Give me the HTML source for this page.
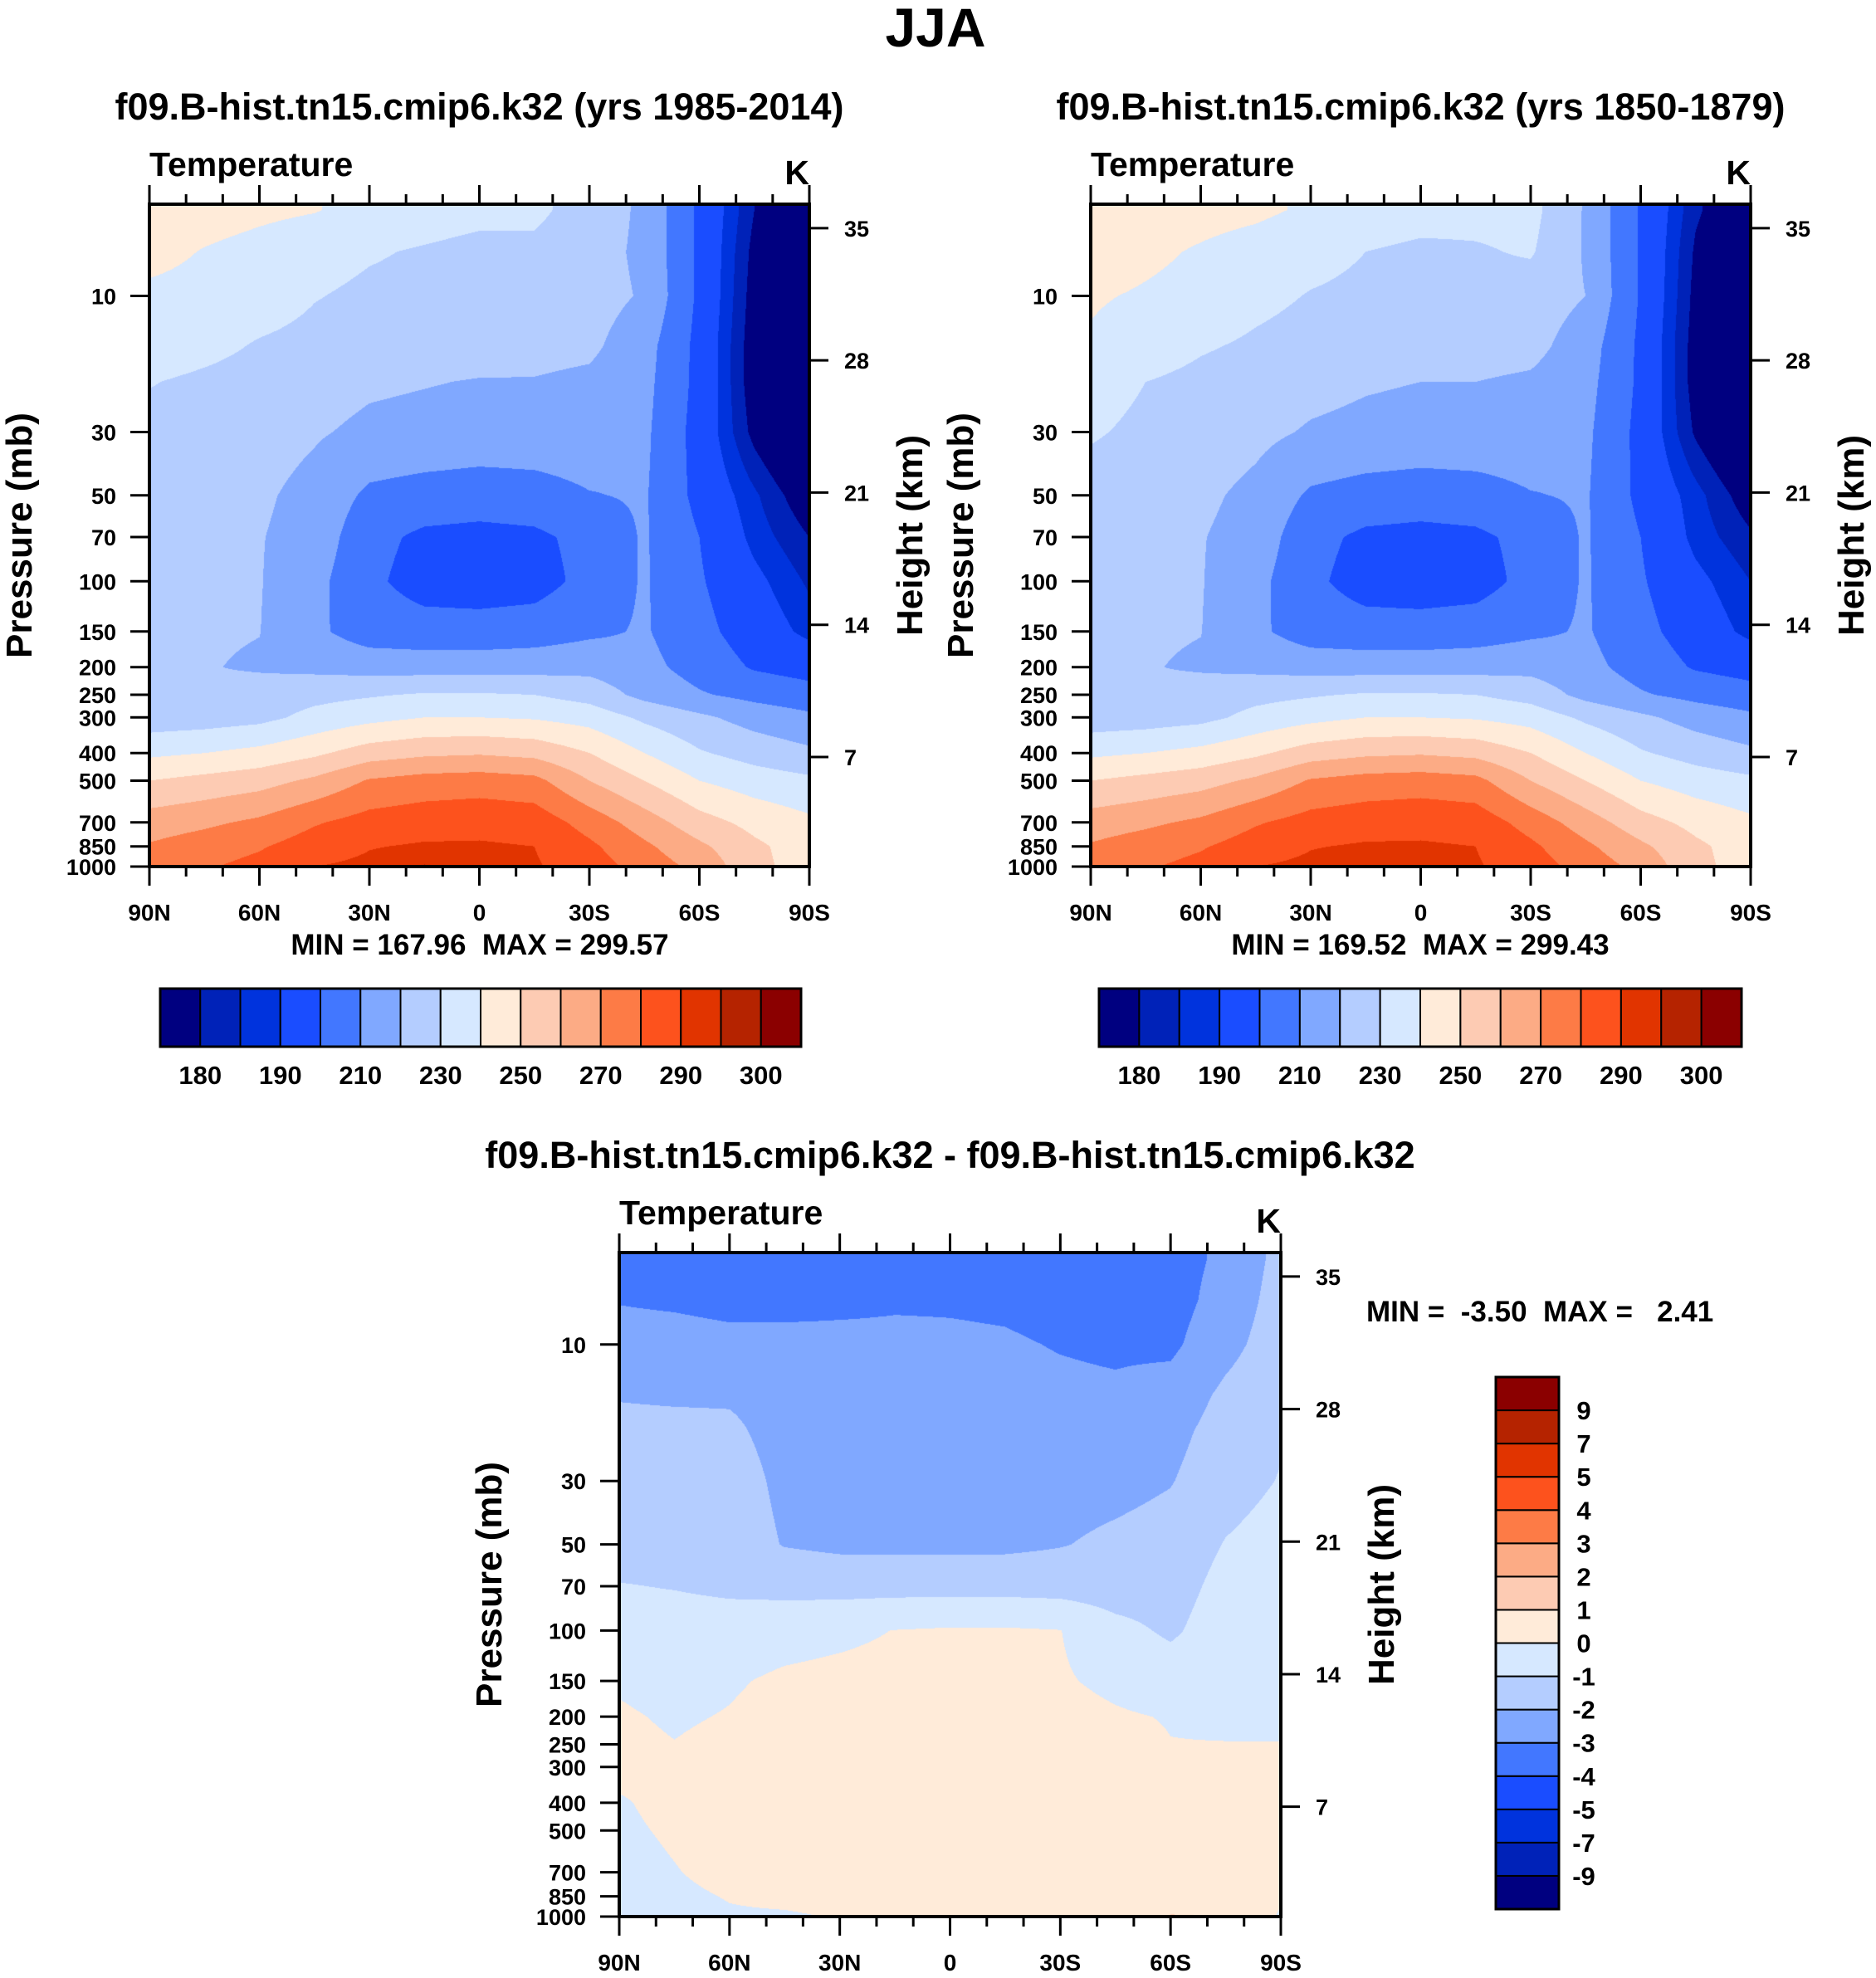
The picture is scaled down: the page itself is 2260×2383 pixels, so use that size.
<!DOCTYPE html>
<html><head><meta charset="utf-8">
<style>
html,body{margin:0;padding:0;background:#fff;}
#root{position:relative;width:2260px;height:2383px;overflow:hidden;background:#fff;}
canvas{position:absolute;}
svg{position:absolute;left:0;top:0;}
text{font-family:"Liberation Sans",Arial,sans-serif;font-weight:bold;fill:#000;}
</style></head>
<body>
<div id="root">
<canvas id="c1"></canvas>
<canvas id="c2"></canvas>
<canvas id="c3"></canvas>
<svg id="svg" width="2260" height="2383"></svg>
</div>
<script>
// ---------- data ----------
const lats = [90,75,60,45,30,15,0,-15,-30,-45,-60,-75,-90];
const plevs = [5,7,10,15,20,30,50,70,100,150,200,250,300,400,500,700,850,1000];
const pTicks = [10,30,50,70,100,150,200,250,300,400,500,700,850,1000];
const hTicks = [35,28,21,14,7];
const latTickVals = [90,60,30,0,-30,-60,-90];
const latTickLabels = ["90N","60N","30N","0","30S","60S","90S"];
const tLevels = [180,185,190,200,210,220,230,240,250,260,270,280,290,295,300];
const tLabels = ["180","190","210","230","250","270","290","300"];
const dLevels = [-9,-7,-5,-4,-3,-2,-1,0,1,2,3,4,5,7,9];
const dLabels = ["-9","-7","-5","-4","-3","-2","-1","0","1","2","3","4","5","7","9"];
const colors = ["#000080","#0022b8","#0033dd","#1a4dff","#4277ff","#80a8ff","#b4cdff","#d6e8ff","#ffebd9","#fdcbb3","#fcab85","#fd7b46","#fd521d","#e13400","#b52300","#8b0000"];

const T1 = [
[246,244,242,240.5,237,235,233,232,226,218,198,180,172],
[243,239.5,237,234,231,229,227,228,224,218,198,178,170],
[238,237,235,230.5,228,227,226,226,224,219,198,177,168],
[236,233,229,227,225,224,224,223,222,214,197,176,167],
[230.5,228,226,224,221.5,220.5,219.5,219.5,218,213,197,176,166],
[227,226,224,221,218,217,216,216,216,212,196,178,166],
[225,224,221.5,217,208,206,205,206,209.5,211,197,186,175],
[224,223,220.5,216,203,198,197,198,203,211,200,188,180],
[223,222,220.5,213,202,196,195,196,203,211,201,192,184],
[222,221,220.2,212,205,204,204,205,208,211,203,195,188],
[221,220.5,219,217.5,216,215.5,215.5,216,217,213,206,199,196],
[221,222,224,227,229,231,231,230,226,217,211,207,204],
[224,225,227,233,237,240,240,239,236,228,222,216,212],
[238,240,243,248,255,258,259,257,250,240,231,226,222],
[250,253,256,262,271,274,275,273,260,250,240,235,232],
[265,268,272,279,284,286,287,286,276,265,254,247,242],
[271,275,279,285,289.5,291,291,290,282,272,262,252,245],
[276,279,283,290,292,295.5,293,291,285,276,267,253,245]
];
const T2 = [
[247,245.5,243.5,242,238.5,236,234,233,233,219,199,181,173],
[245,242,239,236,233,230,228,229,231,219,199,179,171],
[241,239,237,232.5,229.5,228,227,227,225,220,199,178,169],
[239,235,231,228.5,226.5,225,224.5,224,223,215,198,177,168],
[234,230,227.5,225.5,223,221,220,220,218.5,213.5,198,177,167],
[231,228,225.5,222.5,219,217.5,216.5,216.5,216,212,197,179,167],
[226,224.5,222,217.5,208.5,206,205,206,209.5,211,197.5,187,176],
[224,223,220.5,216,203,198,197,198,203,211,200,188,181],
[223,222,220.5,213,202,196,195,196,203,211,201,192,185],
[222,221,220.2,212,205,204,204,205,208,211,203,195,188],
[221,220.5,219,217.5,216,215.5,215.5,216,217,213,206,199,196],
[221,222,224,227,229,231,231,230,226,217,211,207,204],
[224,225,227,233,237,240,240,239,236,228,222,216,212],
[238,240,243,248,255,258,259,257,250,240,231,226,222],
[250,253,256,262,271,274,275,273,260,250,240,235,232],
[265,268,272,279,284,286,287,286,276,265,254,247,242],
[271,275,279,285,289.5,291,291,290,282,272,262,252,245],
[276,279,283,290,292,295.3,293,291,285,276,267,253,245]
];
const D = [
[-3.3,-3.4,-3.4,-3.3,-3.3,-3.3,-3.4,-3.5,-3.5,-3.5,-3.4,-2.8,-1.7],
[-3.05,-3.15,-3.3,-3.3,-3.2,-3.1,-3.1,-3.15,-3.3,-3.4,-3.4,-2.6,-1.6],
[-2.6,-2.6,-2.7,-2.7,-2.75,-2.8,-2.85,-2.9,-3.05,-3.15,-3.2,-2.3,-1.5],
[-2.05,-2.1,-2.1,-2.3,-2.5,-2.6,-2.7,-2.75,-2.8,-2.85,-2.6,-1.8,-1.3],
[-1.8,-1.8,-1.85,-2.3,-2.5,-2.5,-2.55,-2.6,-2.6,-2.6,-2.3,-1.6,-1.1],
[-1.6,-1.6,-1.6,-2.2,-2.45,-2.5,-2.5,-2.5,-2.4,-2.3,-2.05,-1.4,-0.95],
[-1.5,-1.5,-1.5,-2.05,-2.2,-2.2,-2.2,-2.2,-2.05,-1.8,-1.6,-0.95,-0.6],
[-0.95,-1.05,-1.2,-1.3,-1.35,-1.35,-1.35,-1.35,-1.4,-1.5,-1.4,-0.7,-0.5],
[-0.5,-0.5,-0.5,-0.35,-0.2,0.02,0.1,0.1,0.02,-0.7,-1.15,-0.5,-0.4],
[-0.1,-0.3,-0.1,0.15,0.25,0.3,0.3,0.3,0.1,-0.2,-0.5,-0.4,-0.3],
[0.1,-0.1,0.05,0.3,0.3,0.3,0.3,0.3,0.3,0.1,-0.05,-0.15,-0.15],
[0.2,0.02,0.2,0.3,0.3,0.3,0.3,0.3,0.3,0.3,0.02,0.02,0.02],
[0.3,0.2,0.3,0.3,0.3,0.3,0.3,0.3,0.3,0.3,0.2,0.2,0.2],
[-0.1,0.3,0.4,0.4,0.4,0.4,0.4,0.4,0.4,0.4,0.4,0.3,0.3],
[-0.2,0.15,0.4,0.4,0.4,0.4,0.4,0.4,0.4,0.4,0.4,0.3,0.3],
[-0.4,-0.05,0.3,0.4,0.4,0.4,0.4,0.4,0.4,0.4,0.4,0.3,0.2],
[-0.5,-0.2,0.05,0.2,0.3,0.4,0.4,0.4,0.4,0.5,0.6,0.5,0.1],
[-0.6,-0.3,-0.1,-0.1,0.05,0.3,0.3,0.3,0.3,0.4,1.05,1.0,-0.1]
];

// ---------- helpers ----------
const NS = "http://www.w3.org/2000/svg";
const svg = document.getElementById('svg');
function mk(tag, attrs, parent){
  const e = document.createElementNS(NS, tag);
  for (const k in attrs) e.setAttribute(k, attrs[k]);
  (parent||svg).appendChild(e);
  return e;
}
function txt(s, x, y, size, anchor, parent){
  const t = mk('text', {x:x, y:y, 'font-size':size, 'text-anchor':anchor||'middle'}, parent);
  t.textContent = s;
  return t;
}
const PTOP = 4.77;
function hexToRgb(h){return [parseInt(h.substr(1,2),16),parseInt(h.substr(3,2),16),parseInt(h.substr(5,2),16)];}
const rgb = colors.map(hexToRgb);
function colorIndex(v, levels){
  let i = 0;
  while (i < levels.length && v >= levels[i]) i++;
  return i;
}

function drawPanel(id, canvasId, grid, levels, P, title, minmax, minmaxPos){
  const g = mk('g', {}, svg);
  
  
  const W = P.x1 - P.x0, H = P.y1 - P.y0;
  const lx = lat => P.x0 + (90 - lat) / 180 * W;
  const ly = p => P.y0 + (Math.log10(p) - Math.log10(PTOP)) / (3 - Math.log10(PTOP)) * H;
  const hy = h => P.y0 + (19 + (35 - h) * 15) / 526 * H;

  const cv = document.getElementById(canvasId);
  cv.width = W; cv.height = H;
  cv.style.left = P.x0 + 'px'; cv.style.top = P.y0 + 'px';
  const ctx = cv.getContext('2d');
  const img = ctx.createImageData(W, H);
  const lp = plevs.map(p => Math.log10(p));
  for (let y = 0; y < H; y++){
    let L = Math.log10(PTOP) + (y + 0.5) / H * (3 - Math.log10(PTOP));
    if (L < lp[0]) L = lp[0];
    let r = 0; while (r < lp.length - 2 && L > lp[r+1]) r++;
    const fy = Math.min(1, Math.max(0, (L - lp[r]) / (lp[r+1] - lp[r])));
    for (let x = 0; x < W; x++){
      const fxAll = (x + 0.5) / W * (lats.length - 1);
      let c = Math.min(lats.length - 2, Math.floor(fxAll));
      const fx = fxAll - c;
      const v = (grid[r][c]*(1-fx) + grid[r][c+1]*fx)*(1-fy) + (grid[r+1][c]*(1-fx) + grid[r+1][c+1]*fx)*fy;
      const col = rgb[colorIndex(v, levels)];
      const o = (y*W + x)*4;
      img.data[o]=col[0]; img.data[o+1]=col[1]; img.data[o+2]=col[2]; img.data[o+3]=255;
    }
  }
  ctx.putImageData(img, 0, 0);

  const fr = mk('rect', {x:P.x0, y:P.y0, width:W, height:H, fill:'none', stroke:'#000', 'stroke-width':4}, g);
  
  
  for (let lat = 90; lat >= -90; lat -= 10){
    const major = lat % 30 === 0;
    const len = major ? 23 : 12;
    const x = lx(lat);
    mk('line', {x1:x, y1:P.y1, x2:x, y2:P.y1 + len, stroke:'#000', 'stroke-width':3}, g);
    mk('line', {x1:x, y1:P.y0, x2:x, y2:P.y0 - len, stroke:'#000', 'stroke-width':3}, g);
  }
  latTickVals.forEach((lat, i) => {
    const t = txt(latTickLabels[i], lx(lat), P.y1 + 65, 28, 'middle', g);
    
    
  });
  pTicks.forEach(p => {
    const y = ly(p);
    mk('line', {x1:P.x0 - 23, y1:y, x2:P.x0, y2:y, stroke:'#000', 'stroke-width':3}, g);
    const t = txt(String(p), P.x0 - 40, y + 10, 27, 'end', g);
    
    
  });
  hTicks.forEach(h => {
    const y = hy(h);
    mk('line', {x1:P.x1, y1:y, x2:P.x1 + 23, y2:y, stroke:'#000', 'stroke-width':3}, g);
    const t = txt(String(h), P.x1 + 42, y + 10, 27, 'start', g);
    
    
  });
  const cy = (P.y0 + P.y1) / 2;
  const yt = txt('Pressure (mb)', 0, 0, 44, 'middle', g);
  yt.setAttribute('transform', `translate(${P.x0 - 142},${cy}) rotate(-90)`);
  
  
  const ht = txt('Height (km)', 0, 0, 44, 'middle', g);
  ht.setAttribute('transform', `translate(${P.x1 + 136},${cy}) rotate(-90)`);
  
  
  const tt = txt('Temperature', P.x0, P.y0 - 34, 41, 'start', g);
  
  
  const kt = txt('K', P.x1, P.y0 - 24, 41, 'end', g);
  
  
  const ti = txt(title, (P.x0 + P.x1) / 2, P.y0 - 102, 45, 'middle', g);
  
  
  const mm = txt(minmax, minmaxPos[0], minmaxPos[1], 35, minmaxPos[2], g);
  mm.setAttribute('xml:space', 'preserve');
  mm.style.whiteSpace = 'pre';
  
  
}

function hColorbar(name, x0, x1, y0, y1){
  const g = mk('g', {}, svg);
  
  
  const w = (x1 - x0) / colors.length;
  colors.forEach((c, i) => {
    const r = mk('rect', {x:x0 + i*w, y:y0, width:w, height:y1 - y0, fill:c, stroke:'#000', 'stroke-width':2}, g);
    
    
  });
  mk('rect', {x:x0, y:y0, width:x1-x0, height:y1-y0, fill:'none', stroke:'#000', 'stroke-width':3}, g);
  tLabels.forEach((s, k) => {
    const t = txt(s, x0 + (2*k + 1)*w, y1 + 45, 31, 'middle', g);
    
    
  });
}

const main = txt('JJA', 1127, 56, 66, 'middle');



drawPanel('panel-1985-2014', 'c1', T1, tLevels, {x0:180, x1:975, y0:246, y1:1044},
  'f09.B-hist.tn15.cmip6.k32 (yrs 1985-2014)', 'MIN = 167.96  MAX = 299.57', [578, 1150, 'middle']);
drawPanel('panel-1850-1879', 'c2', T2, tLevels, {x0:1314, x1:2109, y0:246, y1:1044},
  'f09.B-hist.tn15.cmip6.k32 (yrs 1850-1879)', 'MIN = 169.52  MAX = 299.43', [1711, 1150, 'middle']);
drawPanel('panel-difference', 'c3', D, dLevels, {x0:746, x1:1543, y0:1509, y1:2309},
  'f09.B-hist.tn15.cmip6.k32 - f09.B-hist.tn15.cmip6.k32', 'MIN =  -3.50  MAX =   2.41', [1646, 1592, 'start']);

hColorbar('colorbar-1985-2014', 193, 965, 1191, 1261);
hColorbar('colorbar-1850-1879', 1324, 2098, 1191, 1261);

(function(){
  const g = mk('g', {}, svg);
  
  
  const x0 = 1802, x1 = 1878, y0 = 1659, y1 = 2300;
  const h = (y1 - y0) / colors.length;
  colors.forEach((c, i) => {
    const r = mk('rect', {x:x0, y:y1 - (i+1)*h, width:x1-x0, height:h, fill:c, stroke:'#000', 'stroke-width':2}, g);
    
    
  });
  mk('rect', {x:x0, y:y0, width:x1-x0, height:y1-y0, fill:'none', stroke:'#000', 'stroke-width':3}, g);
  dLabels.forEach((s, k) => {
    const t = txt(s, 1908, y1 - (k+1)*h + 11, 31, 'middle', g);
    
    
  });
})();
</script>
</body></html>
